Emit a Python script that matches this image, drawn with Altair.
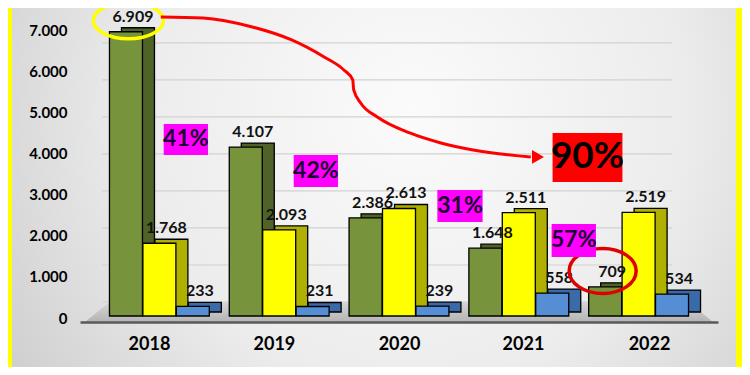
import altair as alt
import pandas as pd

# ---------------- data ----------------
years = [2018, 2019, 2020, 2021, 2022]
green = [6909, 4107, 2386, 1648, 709]
yellow = [1768, 2093, 2613, 2511, 2519]
blue = [233, 231, 239, 558, 534]

series = ["green", "yellow", "blue"]
front_colors = ["#77933C", "#FFFF00", "#558ED5"]
side_colors = ["#4F6228", "#B0B000", "#3A6AA8"]
series_shift = [-0.279, 0.0, 0.279]   # position inside a year group (group-step units)

y_ticks = [1000, 2000, 3000, 4000, 5000, 6000, 7000]
# year labels sit slightly spread out (3-D perspective of the original)
year_label_pos = [-0.087, 0.956, 2.0, 3.035, 4.087]
# back wall of the 3-D chart: gridlines are compressed and lifted
wall_scale = 0.9
wall_lift = 340

pct_text = ["41%", "42%", "31%", "57%"]
pct_x1 = [0.036, 1.121, 2.320, 3.274]
pct_x2 = [0.406, 1.491, 2.698, 3.644]
pct_y1 = [4668, 3914, 3063, 2237]
pct_y2 = [3914, 3136, 2285, 1434]

big_text = ["90%"]
big_x1 = [3.282]
big_x2 = [3.865]
big_y1 = [4449]
big_y2 = [3258]

arrow_x = [0.012, 0.365, 0.776, 1.104, 1.375, 1.540, 1.614, 1.622, 1.680, 1.819, 2.090, 2.35, 2.62, 3.10]
arrow_y = [7269, 7244, 7025, 6710, 6296, 5980, 5737, 5494, 5178, 4838, 4449, 4206, 4035, 3865]
arrow_tip_x = [3.16]
arrow_tip_y = [3865]

ring_yellow_x = [-0.259]
ring_yellow_y = [7180]
ring_red_x = [3.70]
ring_red_y = [1094]

floor_x = [-0.621, -0.416, 4.416, 4.621]
floor_top = [-146, 340, 340, -146]
floor_bottom = [-146, -146, -146, -146]

# ---------------- tables ----------------
rows = []
for s, vals, shift in zip(series, [green, yellow, blue], series_shift):
    for i, v in enumerate(vals):
        rows.append({"idx": i, "pos": i + shift, "value": v, "series": s,
                     "label": f"{v:,}".replace(",", ".")})
bars = pd.DataFrame(rows)

pct = pd.DataFrame({"t": pct_text, "x1": pct_x1, "x2": pct_x2, "y1": pct_y1, "y2": pct_y2})
pct["xc"] = (pct.x1 + pct.x2) / 2
pct["yc"] = (pct.y1 + pct.y2) / 2
big = pd.DataFrame({"t": big_text, "x1": big_x1, "x2": big_x2, "y1": big_y1, "y2": big_y2})
big["xc"] = (big.x1 + big.x2) / 2
big["yc"] = (big.y1 + big.y2) / 2
arrow = pd.DataFrame({"x": arrow_x, "y": arrow_y})
tip = pd.DataFrame({"x": arrow_tip_x, "y": arrow_tip_y})
ring_y = pd.DataFrame({"x": ring_yellow_x, "y": ring_yellow_y})
ring_r = pd.DataFrame({"x": ring_red_x, "y": ring_red_y})
floor = pd.DataFrame({"x": floor_x, "top": floor_top, "bot": floor_bottom})
grid = pd.DataFrame({"g": [wall_lift + wall_scale * v for v in [0] + y_ticks]})
one = pd.DataFrame({"k": [0]})

W, H = 638, 288
PL, PT = 72, 20
TOTAL_W, TOTAL_H = 734, 359

xs = alt.Scale(domain=[-0.621, 4.621], nice=False, zero=False)
ys = alt.Scale(domain=[0, 7000], nice=False, zero=False)
FONT = "Lato"


def X(field):
    return alt.X(field, scale=xs, title=None)


def Y(field):
    return alt.Y(field, scale=ys, title=None)


def ellipse_path(b):
    k = 0.5523
    return (f"M1,0 C1,{k*b:.3f} {k:.3f},{b:.3f} 0,{b:.3f} "
            f"C{-k:.3f},{b:.3f} -1,{k*b:.3f} -1,0 "
            f"C-1,{-k*b:.3f} {-k:.3f},{-b:.3f} 0,{-b:.3f} "
            f"C{k:.3f},{-b:.3f} 1,{-k*b:.3f} 1,0 Z")


bg_grad = alt.Gradient(
    gradient="radial",
    stops=[alt.GradientStop(color="#fbfbfb", offset=0),
           alt.GradientStop(color="#ececec", offset=0.5),
           alt.GradientStop(color="#c4c4c4", offset=1)],
    x1=0.55, y1=0.4, x2=0.55, y2=0.4, r1=0, r2=0.75)

background = alt.Chart(one).mark_rect(color=bg_grad).encode(
    x=alt.value(-PL), x2=alt.value(TOTAL_W - PL),
    y=alt.value(-PT), y2=alt.value(TOTAL_H - PT))

edge_left = alt.Chart(one).mark_rect(color="#FFFF00").encode(
    x=alt.value(-PL), x2=alt.value(-PL + 4),
    y=alt.value(-PT), y2=alt.value(TOTAL_H - PT))
edge_right = alt.Chart(one).mark_rect(color="#FFFF00").encode(
    x=alt.value(TOTAL_W - PL - 6), x2=alt.value(TOTAL_W - PL),
    y=alt.value(-PT), y2=alt.value(TOTAL_H - PT))

floor_grad = alt.Gradient(
    gradient="linear",
    stops=[alt.GradientStop(color="#d6d6d6", offset=0),
           alt.GradientStop(color="#b4b4b4", offset=1)],
    x1=0, y1=0, x2=0, y2=1)

floor_layer = alt.Chart(floor).mark_area(color=floor_grad).encode(
    x=X("x:Q"), y=Y("top:Q"), y2="bot:Q")

grid_layer = alt.Chart(grid).mark_rule(color="#d2d2d2", strokeWidth=1.2).encode(
    y=Y("g:Q"), x=alt.value(22), x2=alt.value(592))

back_bars = alt.Chart(bars).mark_bar(
    size=33, xOffset=12, x2Offset=12, yOffset=-4, y2Offset=-4,
    stroke="black", strokeWidth=1.3).encode(
    x=X("pos:Q"), y=Y("value:Q"),
    fill=alt.Fill("series:N", scale=alt.Scale(domain=series, range=side_colors), legend=None))

front_bars = alt.Chart(bars).mark_bar(
    size=33, stroke="black", strokeWidth=1.3).encode(
    x=alt.X("pos:Q", scale=xs, title=None,
            axis=alt.Axis(values=year_label_pos,
                          labelExpr="[" + ",".join(f"'{y}'" for y in years) + "][round(datum.value)]",
                          domainColor="#5a5a5a", domainWidth=2.5, ticks=False, grid=False,
                          labelFont=FONT, labelFontSize=18, labelFontWeight="bold",
                          labelColor="black", labelPadding=13, offset=6, zindex=5)),
    y=alt.Y("value:Q", scale=ys, title=None,
            axis=alt.Axis(values=[0] + y_ticks, grid=False, domain=False, ticks=False,
                          labelExpr="replace(format(datum.value, ','), ',', '.')",
                          labelFont=FONT, labelFontSize=15, labelFontWeight="bold",
                          labelColor="black", labelPadding=13, labelOffset=2, zindex=5)),
    color=alt.Color("series:N", scale=alt.Scale(domain=series, range=front_colors), legend=None))

value_labels = alt.Chart(bars).mark_text(
    dx=7, dy=-7, baseline="bottom", font=FONT, fontSize=16, fontWeight="bold",
    color="#111111").encode(
    x=X("pos:Q"), y=Y("value:Q"), text="label:N")

ring_yellow = alt.Chart(ring_y).mark_point(
    shape=ellipse_path(0.52), size=70 * 70, filled=False,
    stroke="#FFFF00", strokeWidth=3.5, opacity=1).encode(
    x=X("x:Q"), y=Y("y:Q"))

ring_red = alt.Chart(ring_r).mark_point(
    shape=ellipse_path(0.67), size=67 * 67, filled=False,
    stroke="#E00000", strokeWidth=3.5, opacity=1).encode(
    x=X("x:Q"), y=Y("y:Q"))

arrow_line = alt.Chart(arrow).mark_line(
    color="#FF0000", strokeWidth=3, interpolate="monotone").encode(
    x=X("x:Q"), y=Y("y:Q"))

arrow_head = alt.Chart(tip).mark_point(
    shape="triangle-right", size=190, filled=True, color="#FF0000", opacity=1).encode(
    x=X("x:Q"), y=Y("y:Q"))

pct_boxes = alt.Chart(pct).mark_rect(color="#FF00FF").encode(
    x=X("x1:Q"), x2="x2:Q", y=Y("y1:Q"), y2="y2:Q")
pct_texts = alt.Chart(pct).mark_text(
    font=FONT, fontSize=23, fontWeight="bold", color="#1a0030", baseline="middle").encode(
    x=X("xc:Q"), y=Y("yc:Q"), text="t:N")

big_box = alt.Chart(big).mark_rect(color="#FF0000").encode(
    x=X("x1:Q"), x2="x2:Q", y=Y("y1:Q"), y2="y2:Q")
big_textl = alt.Chart(big).mark_text(
    font=FONT, fontSize=37, fontWeight="bold", color="black", baseline="middle").encode(
    x=X("xc:Q"), y=Y("yc:Q"), text="t:N")

chart = alt.layer(
    background, edge_left, edge_right, grid_layer, floor_layer,
    back_bars, front_bars, value_labels,
    ring_yellow, ring_red, arrow_line, arrow_head,
    pct_boxes, pct_texts, big_box, big_textl,
).resolve_scale(
    color="independent", fill="independent"
).properties(
    width=W, height=H,
    padding={"left": PL, "top": PT, "right": TOTAL_W - PL - W, "bottom": TOTAL_H - PT - H},
    autosize=alt.AutoSizeParams(type="none"),
    background="#dcdcdc",
).configure_view(stroke=None)

chart.save("out.html", embed_options={"renderer": "svg", "actions": False})
